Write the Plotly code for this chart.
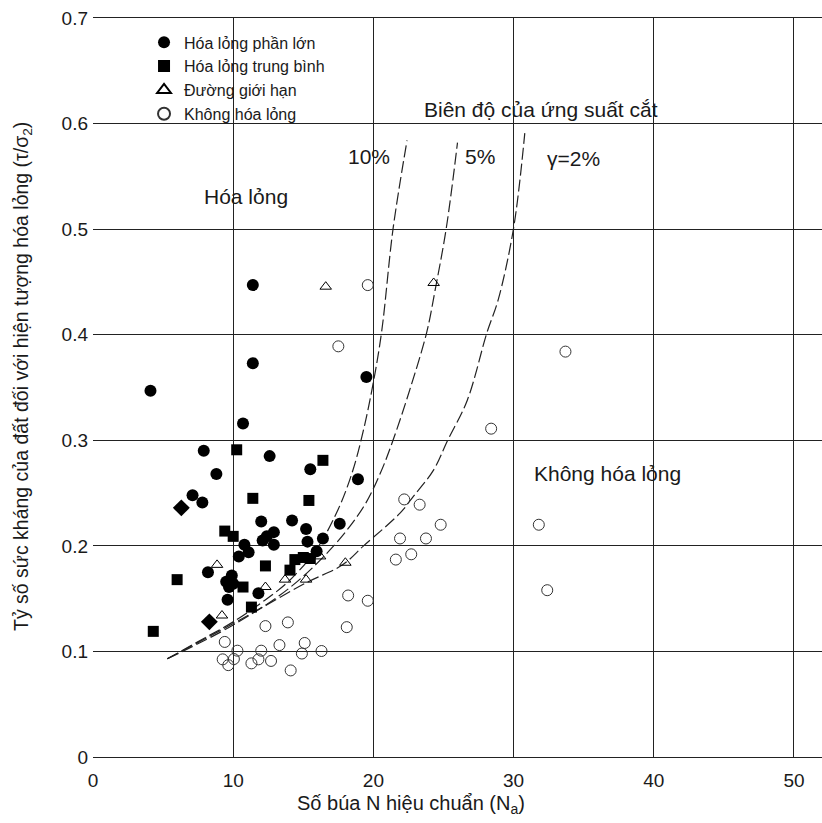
import plotly.graph_objects as go

# ---- data ----
major_x = [11.4, 11.4, 19.5, 4.1, 10.7, 7.9, 12.6, 8.8, 15.5, 18.9, 7.1, 7.8, 12.0, 14.2, 17.6, 15.2,
           12.4, 12.9, 12.1, 12.9, 10.8, 11.1, 10.4, 15.3, 16.4, 15.95, 8.2, 9.9, 9.5, 10.0, 9.7, 11.8, 9.6]
major_y = [0.447, 0.373, 0.360, 0.347, 0.316, 0.290, 0.285, 0.268, 0.2725, 0.263, 0.248, 0.241, 0.223, 0.224,
           0.221, 0.216, 0.209, 0.213, 0.205, 0.201, 0.201, 0.194, 0.190, 0.204, 0.207, 0.195, 0.175, 0.172,
           0.166, 0.164, 0.161, 0.155, 0.149]
diamond_x = [6.3, 8.3]
diamond_y = [0.236, 0.128]

medium_x = [10.25, 11.4, 16.4, 15.4, 9.4, 10.0, 12.3, 14.05, 14.4, 15.0, 15.5, 6.0, 10.7, 11.3, 4.3]
medium_y = [0.291, 0.245, 0.281, 0.243, 0.214, 0.209, 0.181, 0.177, 0.187, 0.189, 0.188, 0.168, 0.161, 0.142, 0.119]

limit_x = [16.6, 24.3, 8.85, 9.2, 12.3, 13.7, 16.2, 18.0, 15.2]
limit_y = [0.4455, 0.449, 0.182, 0.134, 0.161, 0.168, 0.190, 0.184, 0.168]

none_x = [19.6, 17.5, 33.7, 28.4, 22.2, 23.3, 24.8, 31.8, 21.9, 23.75, 22.7, 21.6, 32.4, 18.2, 19.6,
          12.3, 13.9, 18.1, 9.4, 13.3, 15.1, 10.3, 12.0, 16.3, 14.9, 9.25, 10.05, 9.65, 11.3, 11.8, 12.7, 14.1]
none_y = [0.447, 0.389, 0.384, 0.311, 0.244, 0.239, 0.220, 0.220, 0.207, 0.207, 0.192, 0.187, 0.158, 0.153,
          0.148, 0.124, 0.1275, 0.123, 0.109, 0.106, 0.108, 0.1007, 0.1007, 0.1004, 0.098, 0.0925, 0.0928,
          0.087, 0.0887, 0.0925, 0.091, 0.082]

c10_x = [5.3, 8.0, 10.0, 12.0, 14.0, 16.0, 17.5, 18.5, 19.3, 20.0, 20.6, 21.4, 22.4]
c10_y = [0.093, 0.113, 0.128, 0.146, 0.167, 0.198, 0.235, 0.27, 0.31, 0.355, 0.404, 0.50, 0.584]
c5_x = [5.3, 10.0, 14.0, 17.1, 19.3, 20.5, 21.4, 22.6, 23.8, 24.4, 25.2, 26.0]
c5_y = [0.093, 0.125, 0.160, 0.199, 0.237, 0.269, 0.300, 0.348, 0.402, 0.442, 0.501, 0.582]
c2_x = [5.3, 10.5, 15.2, 17.8, 19.3, 21.9, 22.8, 24.3, 25.3, 26.7, 28.1, 28.9, 30.0, 30.8]
c2_y = [0.093, 0.130, 0.165, 0.182, 0.200, 0.231, 0.246, 0.272, 0.300, 0.338, 0.402, 0.433, 0.501, 0.591]

x_ticks = [0, 10, 20, 30, 40, 50]
y_ticks = [0, 0.1, 0.2, 0.3, 0.4, 0.5, 0.6, 0.7]

FONT = "Liberation Sans, Arial, sans-serif"
INK = "#1a1a1a"

fig = go.Figure()

for cx, cy in [(c10_x, c10_y), (c5_x, c5_y), (c2_x, c2_y)]:
    fig.add_trace(go.Scatter(x=cx, y=cy, mode="lines", line=dict(color="#222", width=1.2, dash="12px,4px"),
                             line_shape="spline", showlegend=False, hoverinfo="skip"))

fig.add_trace(go.Scatter(x=major_x, y=major_y, mode="markers", name="Hóa lỏng phần lớn",
                         marker=dict(symbol="circle", size=12, color="black")))
fig.add_trace(go.Scatter(x=medium_x, y=medium_y, mode="markers", name="Hóa lỏng trung bình",
                         marker=dict(symbol="square", size=11, color="black")))
fig.add_trace(go.Scatter(x=limit_x, y=limit_y, mode="markers", name="Đường giới hạn",
                         marker=dict(symbol="triangle-up-open", size=10, color="black", line=dict(width=1))))
fig.add_trace(go.Scatter(x=none_x, y=none_y, mode="markers", name="Không hóa lỏng",
                         marker=dict(symbol="circle-open", size=11, color="#333", line=dict(width=1))))
fig.add_trace(go.Scatter(x=diamond_x, y=diamond_y, mode="markers", showlegend=False,
                         marker=dict(symbol="diamond", size=13, color="black")))

annots = [
    dict(x=31.95, y=0.613, text="Biên độ của ứng suất cắt"),
    dict(x=19.7, y=0.569, text="10%"),
    dict(x=27.6, y=0.569, text="5%"),
    dict(x=34.3, y=0.567, text="γ=2%"),
    dict(x=10.9, y=0.531, text="Hóa lỏng"),
    dict(x=36.7, y=0.269, text="Không hóa lỏng"),
]
for a in annots:
    fig.add_annotation(x=a["x"], y=a["y"], xref="x", yref="y", text=a["text"], showarrow=False,
                       font=dict(size=21, color=INK, family=FONT))

fig.add_annotation(x=(411 - 93) / 729, y=(757 - 805) / 739, xref="paper", yref="paper",
                   xanchor="center", yanchor="middle",
                   text="Số búa N hiệu chuẩn (N<sub>a</sub>)", showarrow=False,
                   font=dict(size=20, color=INK, family=FONT))
fig.add_annotation(x=(22 - 93) / 729, y=(757 - 377) / 739, xref="paper", yref="paper",
                   xanchor="center", yanchor="middle", showarrow=False, textangle=-90,
                   text="Tỷ số sức kháng của đất đối với hiện tượng hóa lỏng (τ/σ<sub>2</sub>)",
                   font=dict(size=19.5, color=INK, family=FONT))

fig.update_layout(
    width=822, height=823,
    margin=dict(l=93, r=0, t=18, b=66),
    paper_bgcolor="white", plot_bgcolor="white",
    font=dict(family=FONT, size=16, color=INK),
    showlegend=True,
    legend=dict(x=0.07, y=0.99, xanchor="left", yanchor="top", bgcolor="rgba(0,0,0,0)",
                font=dict(size=16, color=INK, family=FONT), tracegroupgap=0, itemsizing="constant"),
    xaxis=dict(range=[0, 52], tickvals=x_ticks, showgrid=True, gridcolor="#222", gridwidth=1.3,
               showline=True, linecolor="#222", linewidth=1.3, mirror=True, zeroline=False,
               ticks="", ticklabelstandoff=6, tickfont=dict(size=19)),
    yaxis=dict(range=[0, 0.7], tickvals=y_ticks, showgrid=True, gridcolor="#222", gridwidth=1.3,
               showline=False, zeroline=False, ticks="", ticklabelstandoff=4, tickfont=dict(size=19)),
)

fig.write_html("out.html")
